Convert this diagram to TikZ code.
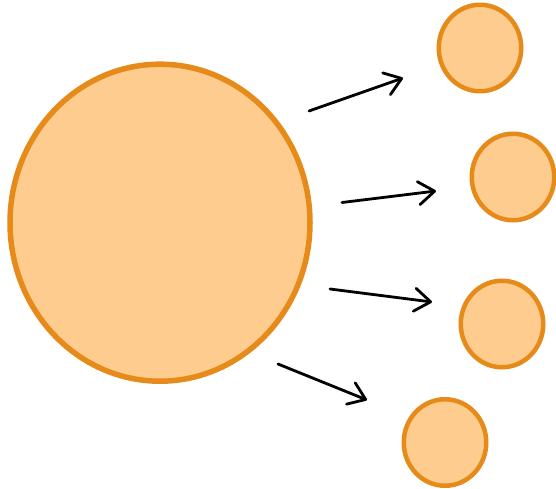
\documentclass[tikz,border=0pt]{standalone}
\usetikzlibrary{shapes.geometric,arrows.meta}
\definecolor{ballfill}{RGB}{254,204,143}
\definecolor{ballline}{RGB}{230,138,26}
\begin{document}
\begin{tikzpicture}[x=1pt,y=-1pt,
  ball/.style={ellipse,draw=ballline,fill=ballfill,inner sep=0pt},
  bigball/.style={ball,line width=5.5pt,minimum width=300pt,minimum height=317pt},
  smallball/.style={ball,line width=4.5pt,minimum width=82.5pt,minimum height=86.5pt},
  flow/.style={line width=2.8pt,line cap=round,-{Straight Barb[length=16pt,width=23pt,line width=2.8pt,round]}}]
\useasboundingbox (0,0) rectangle (556,489);
\node[bigball] (big) at (160,222.7) {};
\node[smallball] (s1) at (480,48) {};
\node[smallball] (s2) at (513,177) {};
\node[smallball] (s3) at (502,324) {};
\node[smallball] (s4) at (445,442.5) {};
\coordinate (a1) at (309,111); \coordinate (b1) at (403,78);
\coordinate (a2) at (342,202.5); \coordinate (b2) at (436,191);
\coordinate (a3) at (330,289); \coordinate (b3) at (432,302);
\coordinate (a4) at (278,364); \coordinate (b4) at (367,400);
\draw[flow] (a1) -- (b1);
\draw[flow] (a2) -- (b2);
\draw[flow] (a3) -- (b3);
\draw[flow] (a4) -- (b4);
\end{tikzpicture}
\end{document}
